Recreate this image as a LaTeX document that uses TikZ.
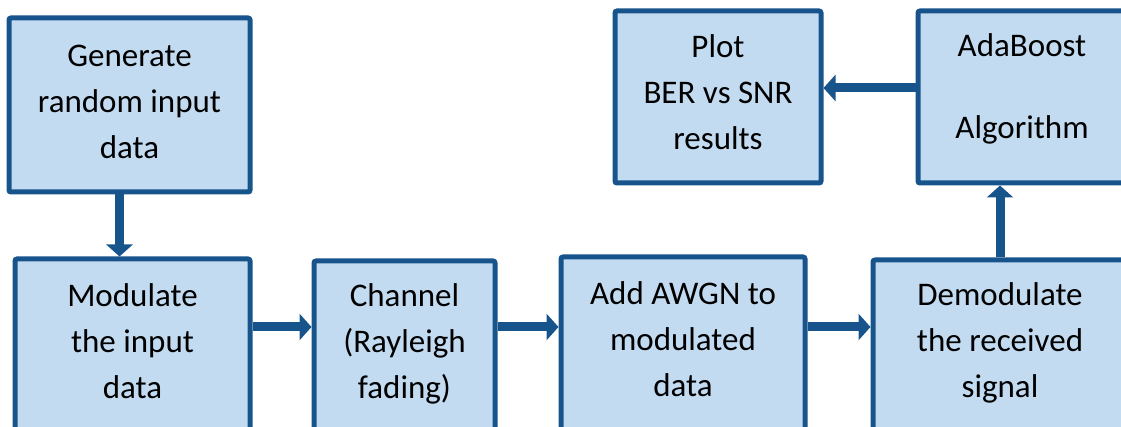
\documentclass[tikz,border=0pt]{standalone}
\usepackage{fontspec}
\setmainfont{Carlito}
\usetikzlibrary{arrows.meta}

\definecolor{boxline}{RGB}{24,84,140}
\definecolor{boxfill}{RGB}{194,219,241}

\begin{document}
\begin{tikzpicture}[x=1pt,y=1pt,yscale=-1,xscale=1,
  blockbox/.style={draw=boxline,fill=boxfill,line width=5pt,rounded corners=2pt,
    inner sep=0pt,align=center,text=black,text depth=9pt,font=\fontsize{33}{46}\selectfont},
  flow/.style={draw=boxline,line width=9pt,-{Triangle[length=12pt,width=26pt]}}]
%set diagram frame, same size as the original
\useasboundingbox (0,0) rectangle (1121,427);

%Shape: Rectangle [top row]
\node [blockbox,text depth=7pt,minimum width=241,minimum height=174] (gen) at (129.5,105) {Generate\\random input\\data};
\node [blockbox,minimum width=206,minimum height=172] (plot) at (718,97) {Plot\\BER vs SNR\\results};
\node [blockbox,text depth=21pt,minimum width=208,minimum height=172] (ada) at (1022,97) {AdaBoost\\[36pt]Algorithm};
%Shape: Rectangle [bottom row]
\node [blockbox,text depth=10pt,minimum width=235,minimum height=174] (mod) at (132.5,346) {Modulate\\the input\\data};
\node [blockbox,text depth=14pt,minimum width=181,minimum height=174] (chan) at (404.5,348) {Channel\\(Rayleigh\\fading)};
\node [blockbox,minimum width=244,minimum height=174] (awgn) at (683,344) {Add AWGN to\\modulated\\data};
\node [blockbox,text depth=13pt,minimum width=254,minimum height=174] (demod) at (1000,347) {Demodulate\\the received\\signal};

%Arrows
\coordinate (row) at (0,327);
\draw [flow] ([xshift=-10pt]gen.south) -- ([xshift=-10pt]gen.south |- mod.north);
\draw [flow] (mod.east |- row) -- (chan.west |- row);
\draw [flow] (chan.east |- row) -- (awgn.west |- row);
\draw [flow] (awgn.east |- row) -- (demod.west |- row);
\draw [flow] (demod.north) -- (demod.north |- ada.south);
\draw [flow] ([yshift=-9pt]ada.west) -- ([yshift=-9pt]ada.west -| plot.east);

\end{tikzpicture}
\end{document}
